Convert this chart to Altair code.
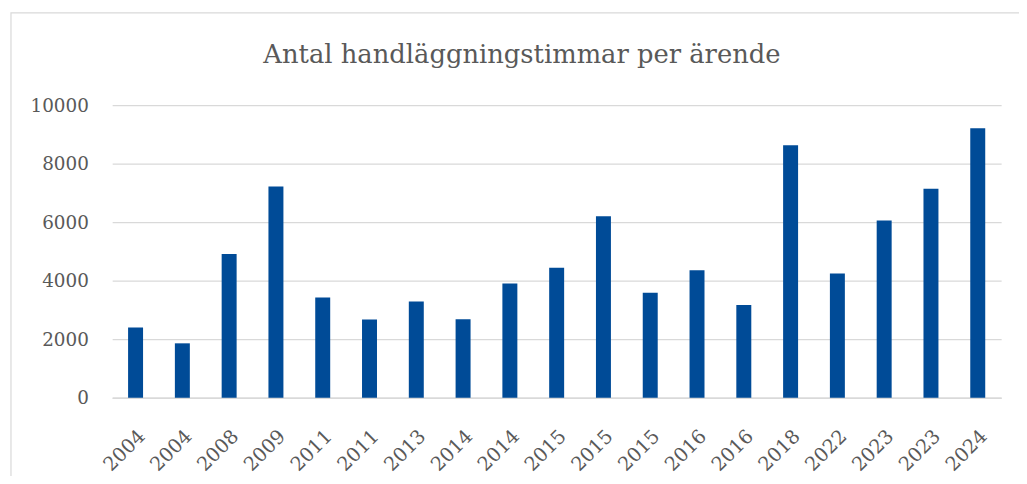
import json
import altair as alt
import pandas as pd

# data
years = ["2004", "2004", "2008", "2009", "2011", "2011", "2013", "2014", "2014",
         "2015", "2015", "2015", "2016", "2016", "2018", "2022", "2023", "2023", "2024"]
hours = [2400, 1860, 4910, 7220, 3430, 2670, 3290, 2680, 3900,
         4440, 6200, 3590, 4360, 3170, 8630, 4250, 6060, 7140, 9210]
y_ticks = [0, 2000, 4000, 6000, 8000, 10000]
title_text = ["Antal handläggningstimmar per ärende"]

df = pd.DataFrame({"idx": list(range(len(years))), "year": years, "hours": hours})

FONT = "DejaVu Serif"
GRAY = "#595959"
LINE = "#d9d9d9"
W, H = 896, 295

label_expr = json.dumps(years) + "[datum.value]"

bars = alt.Chart(df).mark_bar(color="#004B97").encode(
    x=alt.X("idx:O", sort="ascending",
            scale=alt.Scale(paddingInner=0.68, paddingOuter=0.34),
            axis=alt.Axis(title=None, labelExpr=label_expr, labelAngle=-45,
                          labelFont=FONT, labelFontSize=19.5, labelColor=GRAY,
                          ticks=False, domain=True, domainColor=LINE, domainWidth=1.5,
                          labelPadding=29)),
    y=alt.Y("hours:Q", scale=alt.Scale(domain=[0, 10000], nice=False),
            axis=alt.Axis(title=None, values=y_ticks, format="d",
                          labelFont=FONT, labelFontSize=18.5, labelColor=GRAY,
                          ticks=False, domain=False, grid=True, gridColor=LINE,
                          gridWidth=1.3, labelPadding=24)),
)

frame = alt.Chart(pd.DataFrame({"k": [0]})).mark_rect(
    fill=None, stroke=LINE, strokeWidth=1.2
).encode(
    x=alt.value(-102), x2=alt.value(W + 60),
    y=alt.value(-93), y2=alt.value(H + 200),
)

title = alt.Chart(pd.DataFrame({"t": title_text})).mark_text(
    font=FONT, fontSize=26, color=GRAY, align="center", baseline="alphabetic"
).encode(
    text="t:N", x=alt.value(W / 2 - 35), y=alt.value(-42),
)

chart = alt.layer(frame, bars, title).properties(
    width=W, height=H,
    autosize=alt.AutoSizeParams(type="none"),
    padding={"left": 105, "top": 96, "right": 18, "bottom": 77},
).configure_view(stroke=None)

chart.save("out.html", embed_options={"renderer": "svg", "actions": False})
